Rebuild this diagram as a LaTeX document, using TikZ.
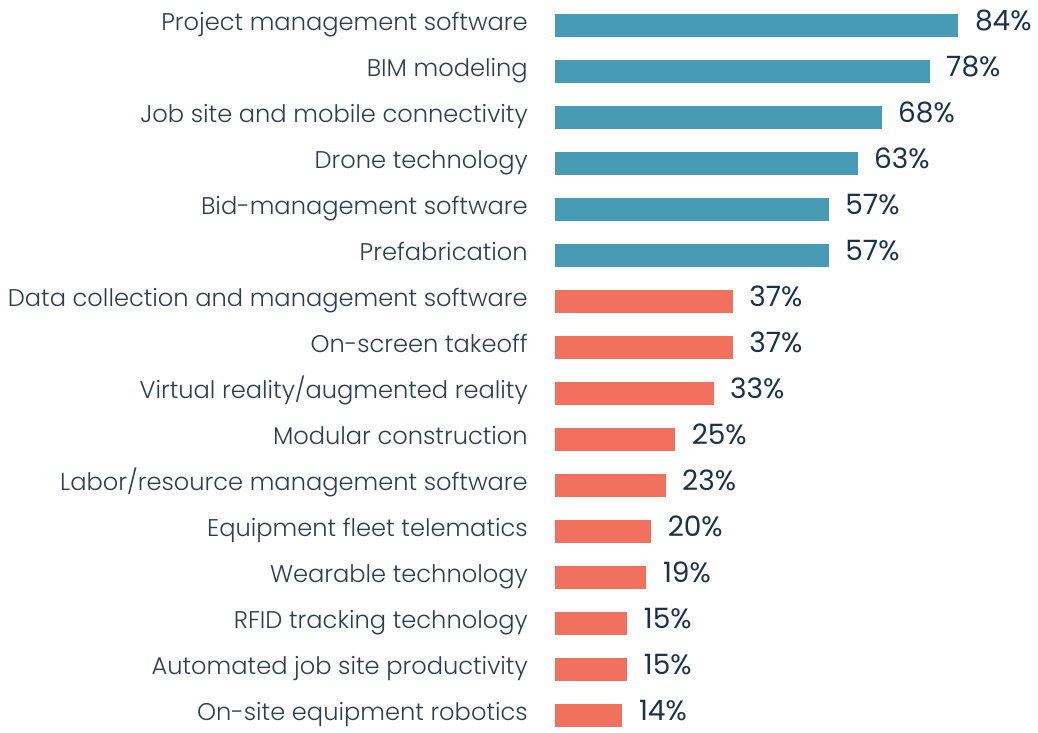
\documentclass[tikz,border=0pt]{standalone}
\usepackage{fontspec}
\usepackage{tikz}
\usetikzlibrary{positioning}
\newfontfamily\lblfont{Poppins Light}
\newfontfamily\valfont{Poppins}

\definecolor{barteal}{RGB}{71,155,181}
\definecolor{barcoral}{RGB}{242,112,94}
\definecolor{lbltext}{RGB}{44,62,84}
\definecolor{valtext}{RGB}{24,50,77}

\tikzset{
    tealbar/.style={fill=barteal, draw=none, inner sep=0pt, minimum height=17.25pt, anchor=west},
    coralbar/.style={fill=barcoral, draw=none, inner sep=0pt, minimum height=17.25pt, anchor=west},
    lbl/.style={anchor=base east, inner sep=0pt, text=lbltext, font=\lblfont\fontsize{18.1}{20}\selectfont},
    val/.style={anchor=base west, inner sep=0pt, text=valtext, font=\valfont\fontsize{21}{24}\selectfont},
}

\begin{document}
\begin{tikzpicture}[x=0.75pt,y=0.75pt,yscale=-1,xscale=1]
    \useasboundingbox (0,0) rectangle (1038,732);

    %Bars: row centres 46 apart, 4.8 units per percent
    \node [tealbar, minimum width=302.4pt] (bar1) at (555,25.2) {};
    \node [tealbar, minimum width=280.8pt] (bar2) at (555,71.2) {};
    \node [tealbar, minimum width=244.8pt] (bar3) at (555,117.2) {};
    \node [tealbar, minimum width=226.8pt] (bar4) at (555,163.2) {};
    \node [tealbar, minimum width=205.2pt] (bar5) at (555,209.2) {};
    \node [tealbar, minimum width=205.2pt] (bar6) at (555,255.2) {};
    \node [coralbar, minimum width=133.2pt] (bar7) at (555,301.2) {};
    \node [coralbar, minimum width=133.2pt] (bar8) at (555,347.2) {};
    \node [coralbar, minimum width=118.8pt] (bar9) at (555,393.2) {};
    \node [coralbar, minimum width=90pt] (bar10) at (555,439.2) {};
    \node [coralbar, minimum width=82.8pt] (bar11) at (555,485.2) {};
    \node [coralbar, minimum width=72pt] (bar12) at (555,531.2) {};
    \node [coralbar, minimum width=68.4pt] (bar13) at (555,577.2) {};
    \node [coralbar, minimum width=54pt] (bar14) at (555,623.2) {};
    \node [coralbar, minimum width=54pt] (bar15) at (555,669.2) {};
    \node [coralbar, minimum width=50.4pt] (bar16) at (555,715.2) {};

    %Labels
    \node [lbl] (lbl1) at (528,30.7) {Project management software};
    \node [lbl] (lbl2) at (528,76.7) {BIM modeling};
    \node [lbl] (lbl3) at (528,122.7) {Job site and mobile connectivity};
    \node [lbl] (lbl4) at (528,168.7) {Drone technology};
    \node [lbl] (lbl5) at (528,214.7) {Bid-management software};
    \node [lbl] (lbl6) at (528,260.7) {Prefabrication};
    \node [lbl] (lbl7) at (528,306.7) {Data collection and management software};
    \node [lbl] (lbl8) at (528,352.7) {On-screen takeoff};
    \node [lbl] (lbl9) at (528,398.7) {Virtual reality/augmented reality};
    \node [lbl] (lbl10) at (528,444.7) {Modular construction};
    \node [lbl] (lbl11) at (528,490.7) {Labor/resource management software};
    \node [lbl] (lbl12) at (528,536.7) {Equipment fleet telematics};
    \node [lbl] (lbl13) at (528,582.7) {Wearable technology};
    \node [lbl] (lbl14) at (528,628.7) {RFID tracking technology};
    \node [lbl] (lbl15) at (528,674.7) {Automated job site productivity};
    \node [lbl] (lbl16) at (528,720.7) {On-site equipment robotics};

    %Values
    \node [val] (val1) at ([xshift=12pt,yshift=4.1pt]bar1.east) {84\%};
    \node [val] (val2) at ([xshift=12pt,yshift=4.1pt]bar2.east) {78\%};
    \node [val] (val3) at ([xshift=12pt,yshift=4.1pt]bar3.east) {68\%};
    \node [val] (val4) at ([xshift=12pt,yshift=4.1pt]bar4.east) {63\%};
    \node [val] (val5) at ([xshift=12pt,yshift=4.1pt]bar5.east) {57\%};
    \node [val] (val6) at ([xshift=12pt,yshift=4.1pt]bar6.east) {57\%};
    \node [val] (val7) at ([xshift=12pt,yshift=4.1pt]bar7.east) {37\%};
    \node [val] (val8) at ([xshift=12pt,yshift=4.1pt]bar8.east) {37\%};
    \node [val] (val9) at ([xshift=12pt,yshift=4.1pt]bar9.east) {33\%};
    \node [val] (val10) at ([xshift=12pt,yshift=4.1pt]bar10.east) {25\%};
    \node [val] (val11) at ([xshift=12pt,yshift=4.1pt]bar11.east) {23\%};
    \node [val] (val12) at ([xshift=12pt,yshift=4.1pt]bar12.east) {20\%};
    \node [val] (val13) at ([xshift=12pt,yshift=4.1pt]bar13.east) {19\%};
    \node [val] (val14) at ([xshift=12pt,yshift=4.1pt]bar14.east) {15\%};
    \node [val] (val15) at ([xshift=12pt,yshift=4.1pt]bar15.east) {15\%};
    \node [val] (val16) at ([xshift=12pt,yshift=4.1pt]bar16.east) {14\%};
\end{tikzpicture}
\end{document}
